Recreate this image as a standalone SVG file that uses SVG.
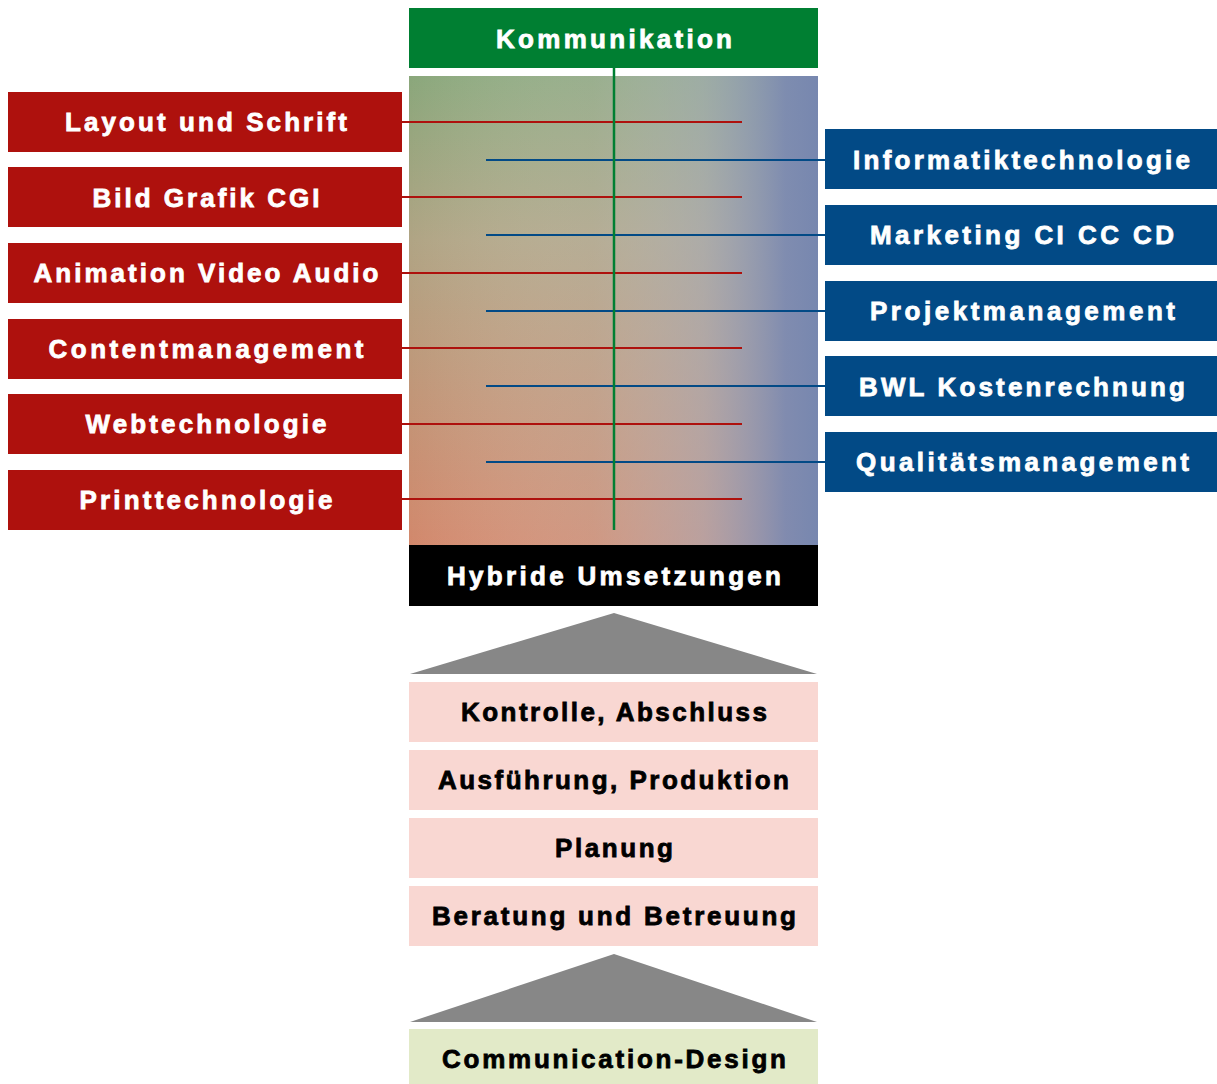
<svg xmlns="http://www.w3.org/2000/svg" width="1217" height="1084" viewBox="0 0 1217 1084">
<defs>
<linearGradient id="gv" x1="0" y1="0" x2="0" y2="1">
<stop offset="0" stop-color="#8aa77b"/>
<stop offset="0.35" stop-color="#b0a484"/>
<stop offset="1" stop-color="#d2886c"/>
</linearGradient>
<linearGradient id="gh" x1="0" y1="0" x2="1" y2="0">
<stop offset="0" stop-color="#ffffff" stop-opacity="0"/>
<stop offset="0.45" stop-color="#c8c8c8" stop-opacity="0.25"/>
<stop offset="0.72" stop-color="#aab0c0" stop-opacity="0.6"/>
<stop offset="0.92" stop-color="#7d8bb2" stop-opacity="0.95"/>
<stop offset="1" stop-color="#7787af" stop-opacity="1"/>
</linearGradient>
<style>
.t{font-family:"Liberation Sans",Arial,sans-serif;font-weight:bold;font-size:26px;text-anchor:middle;stroke-width:0.8;paint-order:stroke}
.w{fill:#ffffff;stroke:#ffffff}
.k{fill:#000000;stroke:#000000}
.red{fill:#ae110d}
.blue{fill:#024a86}
.pink{fill:#f9d7d2}
.tri{fill:#878787}
.lr{stroke:#ae110d;stroke-width:2.2;fill:none}
.lb{stroke:#024a86;stroke-width:2.2;fill:none}
.lg{stroke:#007f32;stroke-width:2.5;fill:none}
</style>
</defs>
<rect width="1217" height="1084" fill="#ffffff"/>

<g id="bg-gradient">
<rect x="409" y="76" width="409" height="469" fill="url(#gv)"/>
<rect x="409" y="76" width="409" height="469" fill="url(#gh)"/>
</g>

<g id="connectors">
<line class="lr" x1="402" y1="122" x2="742" y2="122"/>
<line class="lr" x1="402" y1="197" x2="742" y2="197"/>
<line class="lr" x1="402" y1="273" x2="742" y2="273"/>
<line class="lr" x1="402" y1="348" x2="742" y2="348"/>
<line class="lr" x1="402" y1="424" x2="742" y2="424"/>
<line class="lr" x1="402" y1="499" x2="742" y2="499"/>
<line class="lb" x1="486" y1="160" x2="825" y2="160"/>
<line class="lb" x1="486" y1="235" x2="825" y2="235"/>
<line class="lb" x1="486" y1="311" x2="825" y2="311"/>
<line class="lb" x1="486" y1="386" x2="825" y2="386"/>
<line class="lb" x1="486" y1="462" x2="825" y2="462"/>
<line class="lg" x1="614" y1="68" x2="614" y2="530"/>
</g>

<g id="kommunikation">
<rect x="409" y="8" width="409" height="60" fill="#007f32"/>
<text class="t w" x="614" y="47.5" textLength="236" lengthAdjust="spacing">Kommunikation</text>
</g>

<g id="layout">
<rect class="red" x="8" y="92" width="394" height="60"/>
<text class="t w" x="206" y="131" textLength="282" lengthAdjust="spacing">Layout und Schrift</text>
</g>
<g id="bild">
<rect class="red" x="8" y="167" width="394" height="60"/>
<text class="t w" x="206" y="206.5" textLength="227" lengthAdjust="spacing">Bild Grafik CGI</text>
</g>
<g id="animation">
<rect class="red" x="8" y="243" width="394" height="60"/>
<text class="t w" x="206" y="282" textLength="345" lengthAdjust="spacing">Animation Video Audio</text>
</g>
<g id="content">
<rect class="red" x="8" y="319" width="394" height="60"/>
<text class="t w" x="206" y="357.5" textLength="315" lengthAdjust="spacing">Contentmanagement</text>
</g>
<g id="web">
<rect class="red" x="8" y="394" width="394" height="60"/>
<text class="t w" x="206" y="433" textLength="241" lengthAdjust="spacing">Webtechnologie</text>
</g>
<g id="print">
<rect class="red" x="8" y="470" width="394" height="60"/>
<text class="t w" x="206" y="509" textLength="253" lengthAdjust="spacing">Printtechnologie</text>
</g>

<g id="informatik">
<rect class="blue" x="825" y="129" width="392" height="60"/>
<text class="t w" x="1021.5" y="168.5" textLength="337" lengthAdjust="spacing">Informatiktechnologie</text>
</g>
<g id="marketing">
<rect class="blue" x="825" y="205" width="392" height="60"/>
<text class="t w" x="1022" y="244" textLength="304" lengthAdjust="spacing">Marketing CI CC CD</text>
</g>
<g id="projekt">
<rect class="blue" x="825" y="281" width="392" height="60"/>
<text class="t w" x="1022.5" y="320" textLength="305" lengthAdjust="spacing">Projektmanagement</text>
</g>
<g id="bwl">
<rect class="blue" x="825" y="356" width="392" height="60"/>
<text class="t w" x="1022" y="395.5" textLength="326" lengthAdjust="spacing">BWL Kostenrechnung</text>
</g>
<g id="qualitaet">
<rect class="blue" x="825" y="432" width="392" height="60"/>
<text class="t w" x="1022.5" y="471" textLength="333" lengthAdjust="spacing">Qualitätsmanagement</text>
</g>

<g id="hybride">
<rect x="409" y="545" width="409" height="61" fill="#000000"/>
<text class="t w" x="614" y="585" textLength="334" lengthAdjust="spacing">Hybride Umsetzungen</text>
</g>

<g id="dach1">
<polygon class="tri" points="614,613 817,674 410,674"/>
</g>

<g id="kontrolle">
<rect class="pink" x="409" y="682" width="409" height="60"/>
<text class="t k" x="614" y="721" textLength="306" lengthAdjust="spacing">Kontrolle, Abschluss</text>
</g>
<g id="ausfuehrung">
<rect class="pink" x="409" y="750" width="409" height="60"/>
<text class="t k" x="613.5" y="789" textLength="351" lengthAdjust="spacing">Ausführung, Produktion</text>
</g>
<g id="planung">
<rect class="pink" x="409" y="818" width="409" height="60"/>
<text class="t k" x="614" y="857" textLength="118" lengthAdjust="spacing">Planung</text>
</g>
<g id="beratung">
<rect class="pink" x="409" y="886" width="409" height="60"/>
<text class="t k" x="614" y="925" textLength="364" lengthAdjust="spacing">Beratung und Betreuung</text>
</g>

<g id="dach2">
<polygon class="tri" points="614,954 817,1022 410,1022"/>
</g>

<g id="communication-design">
<rect x="409" y="1029" width="409" height="55" fill="#e2eac8"/>
<text class="t k" x="614" y="1068" textLength="344" lengthAdjust="spacing">Communication-Design</text>
</g>
</svg>
